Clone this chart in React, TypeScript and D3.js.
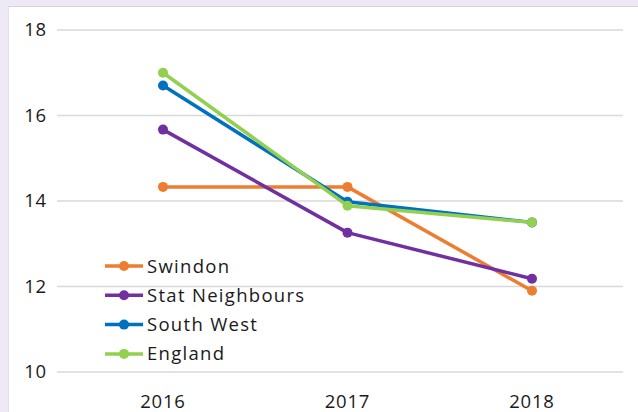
import React from "react";
import * as d3 from "d3";

const years = ["2016", "2017", "2018"];
const seriesNames = ["Swindon", "Stat Neighbours", "South West", "England"];
const swindon = [14.33, 14.33, 11.9];
const statNeighbours = [15.67, 13.26, 12.18];
const southWest = [16.7, 13.98, 13.5];
const england = [17.0, 13.89, 13.5];
const yTicks = [10, 12, 14, 16, 18];
const colors = ["#ED7D31", "#7030A0", "#0070C0", "#92D050"];

const W = 638;
const H = 412;
const FONT = "'Open Sans', Lato, sans-serif";
const FS = 18.5;

export default function App() {
  const data = [swindon, statNeighbours, southWest, england];
  const x = d3.scalePoint<string>().domain(years).range([163, 532]);
  const y = d3.scaleLinear().domain([10, 18]).range([372, 30]);
  const line = d3
    .line<number>()
    .x((_, i) => x(years[i]) as number)
    .y((d) => y(d));

  return (
    <svg
      width={W}
      height={H}
      style={{ position: "absolute", left: 0, top: 0, display: "block" }}
    >
      <rect x={0} y={0} width={W} height={H} fill="#EFE8F6" />
      <rect x={8} y={7} width={W - 8} height={H - 7} fill="#ffffff" />
      <line x1={8} y1={6.5} x2={W} y2={6.5} stroke="#D8D4DE" strokeWidth={1} />
      <line x1={8.5} y1={7} x2={8.5} y2={H} stroke="#E4E0EA" strokeWidth={1} />
      {yTicks.map((t) => (
        <g key={t}>
          <line x1={57} x2={623} y1={y(t)} y2={y(t)} stroke="#D9D9D9" strokeWidth={1.5} />
          <text
            x={47}
            y={y(t) + 6}
            textAnchor="end"
            fontFamily={FONT}
            fontSize={FS}
            letterSpacing={0.8}
            fill="#1a1a1a"
          >
            {t}
          </text>
        </g>
      ))}
      {years.map((yr) => (
        <text
          key={yr}
          x={x(yr)}
          y={407.5}
          textAnchor="middle"
          fontFamily={FONT}
          fontSize={FS}
          letterSpacing={0.8}
          fill="#1a1a1a"
        >
          {yr}
        </text>
      ))}
      {data.map((s, si) => (
        <g key={seriesNames[si]}>
          <path
            d={line(s) || ""}
            fill="none"
            stroke={colors[si]}
            strokeWidth={3.5}
            strokeLinejoin="round"
          />
          {s.map((v, i) => (
            <circle key={i} cx={x(years[i])} cy={y(v)} r={5} fill={colors[si]} />
          ))}
        </g>
      ))}
      {seriesNames.map((name, si) => {
        const ly = 266 + si * 29.3;
        return (
          <g key={name}>
            <line x1={105} x2={143} y1={ly} y2={ly} stroke={colors[si]} strokeWidth={3.5} />
            <circle cx={124} cy={ly} r={5} fill={colors[si]} />
            <text
              x={147}
              y={ly + 6.5}
              fontFamily={FONT}
              fontSize={FS}
              letterSpacing={1.3}
              fill="#1a1a1a"
            >
              {name}
            </text>
          </g>
        );
      })}
    </svg>
  );
}
